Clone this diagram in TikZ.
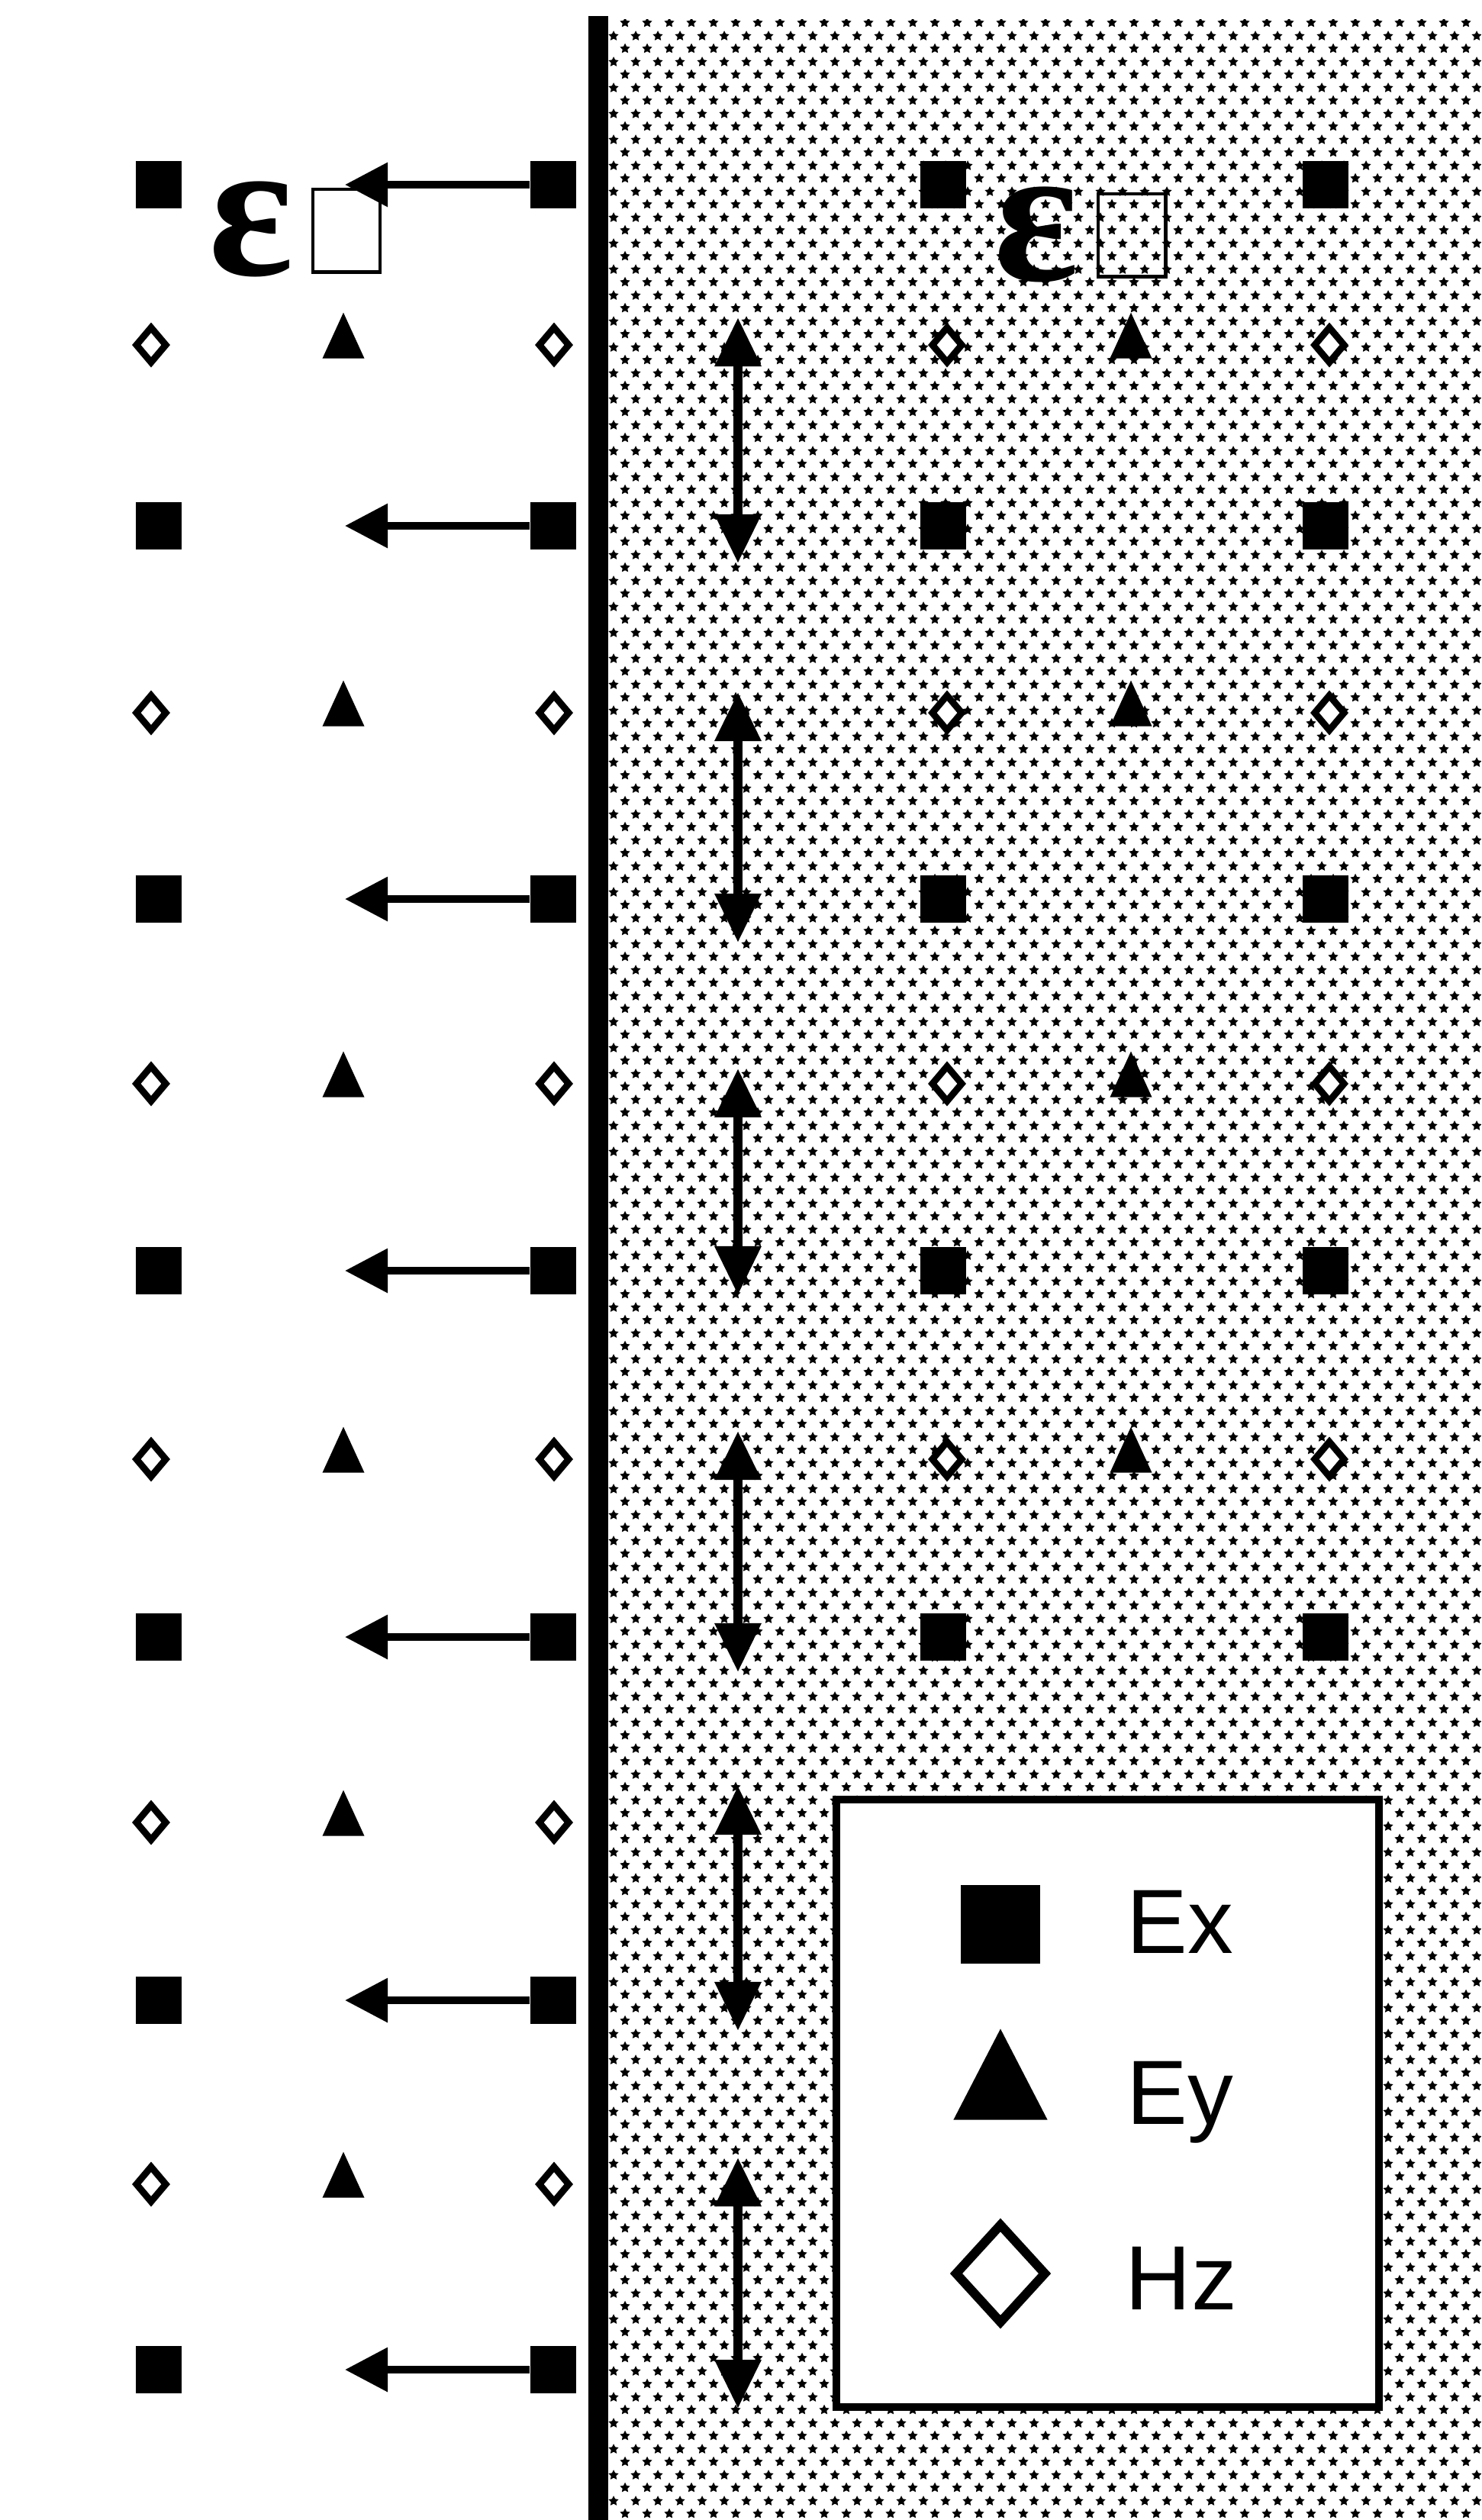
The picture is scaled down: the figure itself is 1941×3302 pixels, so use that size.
\documentclass[tikz,border=0pt]{standalone}
\usepackage{fontspec}
\setmainfont{Liberation Serif}
\newfontfamily\legendfont{Liberation Sans}
\usetikzlibrary{arrows.meta,shapes.geometric,patterns.meta}

\tikzdeclarepattern{
  name=starfield,
  type=uncolored,
  bounding box={(0,0) and (2.9mm,3.4mm)},
  tile size={(2.9mm,3.4mm)},
  code={
    \foreach \p in {{(0.725mm,0.85mm)},{(2.175mm,2.55mm)}}
      \fill[shift={\p}] (90:0.72mm) -- (126:0.36mm) -- (162:0.72mm) -- (198:0.36mm)
        -- (234:0.72mm) -- (270:0.36mm) -- (306:0.72mm) -- (342:0.36mm)
        -- (18:0.72mm) -- (54:0.36mm) -- cycle;
  }
}

\tikzset{
  ex/.style={rectangle, fill=black, inner sep=0pt,
    minimum width=0.6cm, minimum height=0.62cm},
  ey/.style={isosceles triangle, isosceles triangle stretches,
    shape border rotate=90, fill=black, inner sep=0pt,
    minimum width=0.55cm, minimum height=0.6cm},
  hz/.style={diamond, draw=black, fill=white, line width=2.5pt, inner sep=0pt,
    minimum width=0.42cm, minimum height=0.49cm},
  tofu/.style={rectangle, draw=black, line width=1.4pt, inner sep=0pt,
    minimum width=0.88cm, minimum height=1.08cm},
  eps/.style={inner sep=0pt, font=\bfseries\fontsize{74pt}{74pt}\selectfont},
  harrow/.style={line width=2.8pt, -{Triangle[length=0.56cm,width=0.56cm]}},
  varrow/.style={line width=3.6pt,
    {Triangle[length=0.64cm,width=0.58cm]}-{Triangle[length=0.64cm,width=0.58cm]}},
  keytext/.style={inner sep=0pt, anchor=base west,
    font=\legendfont\fontsize{34pt}{34pt}\selectfont}
}

\begin{document}
\begin{tikzpicture}[x=0.01cm, y=-0.01cm]
  \useasboundingbox (0,0) rectangle (1941,3302);

  % medium and interface
  \path[pattern=starfield] (784,25) rectangle (1941,3302);
  \draw[line width=7.4pt] (784,21) -- (784,3302);

  % labels
  \node[eps] (epsL) at (329,300) {ε};
  \node[tofu] (tofuL) at (454,302) {};
  \node[eps] (epsR) at (1358,307) {ε};
  \node[tofu] (tofuR) at (1483,308) {};

  % left side
  \foreach \y [count=\i] in {242,689,1178,1665,2145,2621,3105} {
    \node[ex] (exL\i) at (208,\y) {};
    \node[ex] (exW\i) at (725,\y) {};
    \coordinate (tip\i) at (452,\y);
    \draw[harrow] (exW\i) -- (tip\i);
  }
  \foreach \y [count=\i] in {452,934,1420,1912,2388,2862} {
    \node[hz] (hzL\i) at (198,\y) {};
    \node[ey] (eyL\i) at (450,\y) {};
    \node[hz] (hzW\i) at (726,\y) {};
  }

  % right side
  \foreach \y [count=\i] in {242,689,1178,1665,2145} {
    \node[ex] (exA\i) at (1236,\y) {};
    \node[ex] (exB\i) at (1737,\y) {};
  }
  \foreach \y [count=\i] in {452,934,1420,1912} {
    \node[hz] (hzA\i) at (1241,\y) {};
    \node[ey] (eyA\i) at (1482,\y) {};
    \node[hz] (hzB\i) at (1742,\y) {};
  }
  \foreach \a/\b [count=\i] in {416/738,907/1235,1400/1697,1875/2191,2340/2661,2827/3156} {
    \coordinate (up\i) at (967,\a);
    \coordinate (dn\i) at (967,\b);
    \draw[varrow] (up\i) -- (dn\i);
  }

  % legend
  \node[draw, line width=2.8pt, fill=white, inner sep=0pt,
    minimum width=7.11cm, minimum height=7.96cm] (legend) at (1451.5,2756) {};
  \node[ex, minimum width=1.03cm, minimum height=1.03cm] (keyEx) at (1311,2521) {};
  \node[ey, minimum width=1.23cm, minimum height=1.19cm] (keyEy) at (1311,2740) {};
  \node[hz, line width=3.4pt, minimum width=1.21cm, minimum height=1.32cm] (keyHz) at (1311,2979) {};
  \node[keytext] (txtEx) at (1476,2559) {Ex};
  \node[keytext] (txtEy) at (1476,2783) {Ey};
  \node[keytext] (txtHz) at (1474,3026) {Hz};
\end{tikzpicture}
\end{document}
